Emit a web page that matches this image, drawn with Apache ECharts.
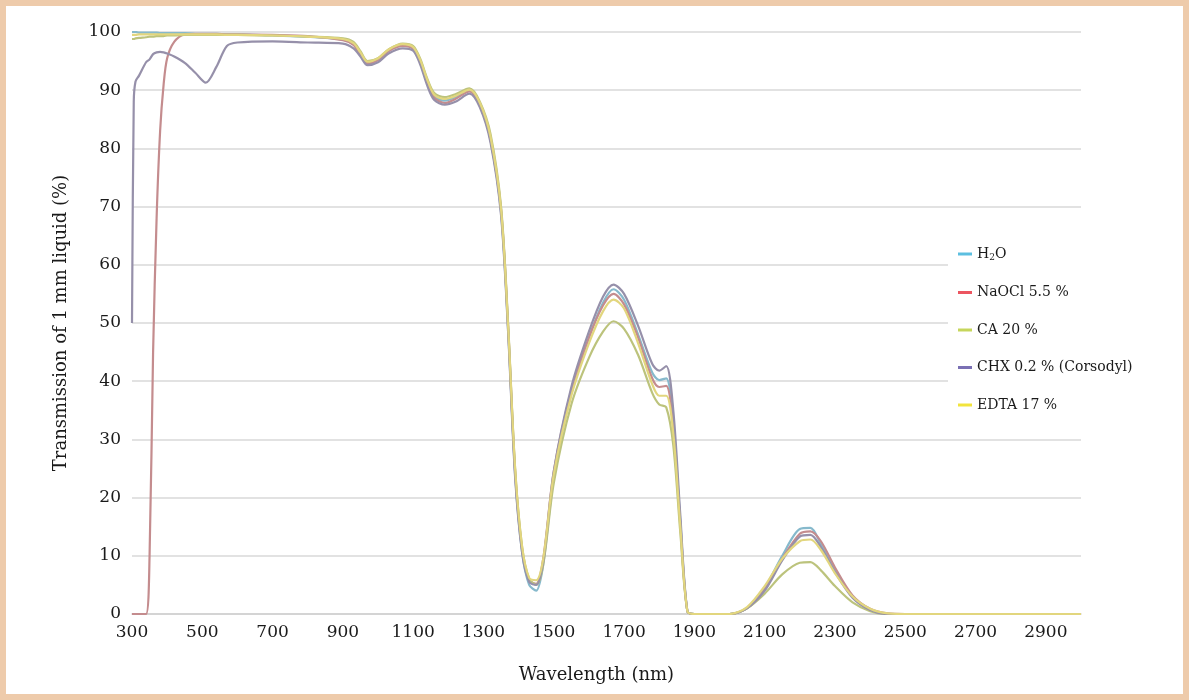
<!DOCTYPE html>
<html>
<head>
<meta charset="utf-8">
<title>Transmission of 1 mm liquid</title>
<script src="https://cdn.jsdelivr.net/npm/echarts@6/dist/echarts.min.js"></script>
<style>
  html, body {
    margin: 0;
    padding: 0;
    background: #fff;
  }
  .wrap {
    position: relative;
    width: 1189px;
    height: 700px;
  }
  #chart {
    width: 1189px;
    height: 700px;
  }
  .frame {
    position: absolute;
    left: 0;
    top: 0;
    width: 1189px;
    height: 700px;
    box-sizing: border-box;
    border: 6px solid #eecbab;
    pointer-events: none;
  }
</style>
</head>
<body>
<div class="wrap">
  <div id="chart"></div>
  <div class="frame"></div>
</div>
<script>
// wavelength (nm)
const wavelengths = [
  300, 305, 310, 320, 340,
  350, 360, 370, 380, 390,
  400, 420, 450, 480, 510,
  540, 570, 600, 700, 800,
  900, 930, 950, 970, 1000,
  1030, 1070, 1100, 1120, 1140,
  1160, 1190, 1220, 1260, 1290,
  1320, 1350, 1370, 1390, 1410,
  1430, 1450, 1470, 1500, 1550,
  1600, 1640, 1670, 1700, 1740,
  1780, 1800, 1820, 1840, 1860,
  1880, 1900, 2000, 2050, 2100,
  2150, 2200, 2230, 2260, 2300,
  2350, 2400, 2450, 2500, 3000
]

// transmission (%)
const h2o = [
  100, 100, 100, 99.9, 99.9,
  99.9, 99.9, 99.9, 99.8, 99.8,
  99.8, 99.8, 99.8, 99.7, 99.7,
  99.7, 99.6, 99.6, 99.4, 99.2,
  98.7, 98.0, 96.3, 94.8, 95.4,
  96.9, 97.8, 97.3, 95.0, 91.5,
  89.0, 88.2, 88.8, 90.0, 87.5,
  81.5, 69.0, 49.0, 24.0, 10.5,
  5.0, 4.0, 8.5, 23.5, 38.0,
  47.5, 53.5, 55.8, 54.0, 48.0,
  41.5, 40.2, 40.5, 33.0, 16.0,
  0.5, 0, 0, 1.0, 4.5,
  10.0, 14.6, 14.8, 12.0, 7.5,
  3.0, 0.8, 0, 0, 0
]

const naocl = [
  0, 0, 0, 0, 0,
  10, 45, 68, 83, 91,
  95.5, 98.3, 99.6, 99.7, 99.7,
  99.7, 99.6, 99.6, 99.5, 99.3,
  98.6, 97.8, 96.0, 94.6, 95.2,
  96.7, 97.6, 97.1, 94.8, 91.2,
  88.7, 87.8, 88.5, 89.8, 87.3,
  81.5, 69.5, 49.5, 24.5, 11.0,
  5.8, 5.2, 9.5, 24.5, 38.5,
  47.5, 53.0, 55.0, 53.2, 47.5,
  40.5, 39.0, 39.2, 32.0, 15.5,
  0.5, 0, 0, 1.0, 4.2,
  9.5, 13.8, 14.2, 12.5, 8.0,
  3.2, 0.9, 0.1, 0, 0
]

const ca = [
  98.8, 98.8, 98.9, 99.0, 99.1,
  99.2, 99.2, 99.3, 99.3, 99.3,
  99.4, 99.4, 99.5, 99.5, 99.5,
  99.5, 99.5, 99.5, 99.4, 99.2,
  98.9, 98.3, 96.7, 95.0, 95.5,
  97.0, 98.0, 97.6, 95.4, 92.0,
  89.5, 88.8, 89.3, 90.3, 88.0,
  82.5, 70.0, 50.0, 25.0, 11.5,
  6.0, 5.0, 8.5, 22.5, 36.0,
  44.0, 48.5, 50.3, 49.0, 44.5,
  38.0, 36.0, 35.5, 29.0, 14.0,
  0.5, 0, 0, 1.0, 3.5,
  6.8, 8.8, 8.9, 7.5, 4.8,
  2.0, 0.5, 0, 0, 0
]

const chx = [
  50, 88, 91.5, 92.5, 94.8,
  95.3, 96.2, 96.5, 96.6, 96.5,
  96.3, 95.8, 94.7, 93.0, 91.3,
  94.0, 97.6, 98.2, 98.4, 98.2,
  98.0, 97.2, 95.8, 94.3, 94.8,
  96.3, 97.2, 96.8, 94.4, 90.8,
  88.3, 87.5, 88.0, 89.4, 87.0,
  81.0, 68.5, 48.5, 23.5, 10.5,
  5.5, 5.0, 9.0, 24.5, 39.0,
  48.5, 54.5, 56.6, 55.0, 49.5,
  43.0, 41.8, 42.6, 35.0, 17.0,
  0.5, 0, 0, 1.0, 4.0,
  9.2, 13.3, 13.6, 11.5, 7.2,
  2.8, 0.7, 0, 0, 0
]

const edta = [
  99.5, 99.5, 99.5, 99.6, 99.6,
  99.6, 99.6, 99.6, 99.6, 99.6,
  99.6, 99.6, 99.6, 99.6, 99.6,
  99.6, 99.5, 99.5, 99.4, 99.2,
  98.8, 98.1, 96.5, 94.9, 95.5,
  97.0, 97.9, 97.4, 95.2, 91.8,
  89.2, 88.5, 89.0, 90.1, 87.8,
  82.0, 69.5, 49.5, 25.0, 11.5,
  6.2, 5.8, 9.5, 24.0, 37.5,
  46.5, 52.0, 54.0, 52.5, 46.5,
  39.5, 37.5, 37.5, 31.0, 15.0,
  0.5, 0, 0, 1.2, 4.8,
  9.5, 12.5, 12.8, 11.0, 7.0,
  3.0, 0.9, 0.1, 0, 0
]

const xTickLabels = [300, 500, 700, 900, 1100, 1300, 1500, 1700, 1900, 2100, 2300, 2500, 2700, 2900]

const seriesNames = ['H2O', 'NaOCl 5.5 %', 'CA 20 %', 'CHX 0.2 % (Corsodyl)', 'EDTA 17 %']
const seriesValues = [h2o, naocl, ca, chx, edta]
// legend colours and the (duller) colours the curves are drawn in
const legendColors = ['#5cbfe0', '#ec5560', '#c6d65c', '#7a70b4', '#f2e43c']
const lineColors = ['#86b9cc', '#c48c8e', '#bcc37c', '#9690aa', '#e2d67e']

const font = 'DejaVu Serif'

const chart = echarts.init(document.getElementById('chart'))

const series = seriesNames.map((name, i) => ({
  name: name,
  type: 'line',
  showSymbol: false,
  smooth: 0.3,
  itemStyle: { color: legendColors[i] },
  lineStyle: { color: lineColors[i], width: 2.2 },
  data: wavelengths.map((w, k) => [w, seriesValues[i][k]]),
}))

const option = {
  animation: false,
  backgroundColor: '#fff',
  grid: {
    left: 132,
    right: 108,
    top: 32,
    bottom: 86,
  },
  legend: {
    orient: 'vertical',
    left: 948,
    top: 239,
    icon: 'rect',
    itemWidth: 14,
    itemHeight: 3,
    itemGap: 23.5,
    padding: [8, 8, 8, 10],
    backgroundColor: '#fff',
    data: seriesNames.map((name, i) => ({
      name: name,
      itemStyle: { color: legendColors[i] },
    })),
    formatter: function (name) {
      return name === 'H2O' ? 'H{sub|2}O' : name
    },
    textStyle: {
      fontFamily: font,
      fontSize: 14,
      color: '#1a1a1a',
      rich: {
        sub: {
          fontFamily: font,
          fontSize: 9,
          verticalAlign: 'bottom',
          padding: [7, 0, 0, 0],
          color: '#1a1a1a',
        },
      },
    },
  },
  xAxis: {
    type: 'value',
    min: 300,
    max: 3000,
    interval: 100,
    name: 'Wavelength (nm)',
    nameLocation: 'middle',
    nameGap: 52,
    nameTextStyle: {
      fontFamily: font,
      fontSize: 18,
      color: '#1a1a1a',
      padding: [0, 20, 0, 0],
    },
    axisLine: { lineStyle: { color: '#cfcfcf', width: 1.5 } },
    axisTick: { show: false },
    splitLine: { show: false },
    axisLabel: {
      fontFamily: font,
      fontSize: 17,
      color: '#1a1a1a',
      margin: 10,
      formatter: function (v) {
        return xTickLabels.indexOf(v) >= 0 ? String(v) : ''
      },
    },
  },
  yAxis: {
    type: 'value',
    min: 0,
    max: 100,
    interval: 10,
    name: 'Transmission of 1 mm liquid (%)',
    nameLocation: 'middle',
    nameGap: 62,
    nameTextStyle: {
      fontFamily: font,
      fontSize: 18,
      color: '#1a1a1a',
    },
    axisLine: { show: false },
    axisTick: { show: false },
    splitLine: { lineStyle: { color: '#d9d9d9', width: 1.5 } },
    axisLabel: {
      fontFamily: font,
      fontSize: 17,
      color: '#1a1a1a',
      margin: 11,
    },
  },
  series: series,
}

option && chart.setOption(option)
</script>
</body>
</html>
